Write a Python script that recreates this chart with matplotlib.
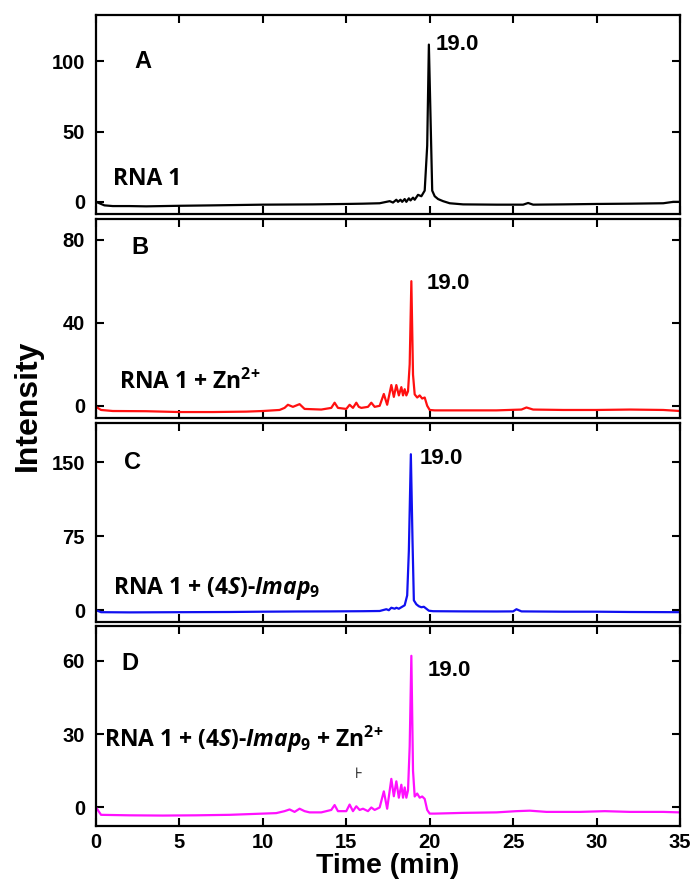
import matplotlib.pyplot as plt

# retention time traces
A_time = [0, 0.5, 1, 2, 3, 4, 5, 7, 10, 13, 15, 16, 17, 17.6, 17.8, 18.0, 18.1, 18.25, 18.35, 18.5,
          18.6, 18.75, 18.85, 19.0, 19.1, 19.3, 19.5, 19.7, 19.85, 19.95, 20.05, 20.15, 20.3, 20.5,
          20.8, 21.2, 22, 24, 25.6, 25.9, 26.2, 28, 30, 32, 34, 34.6, 35]
A_vals = [0, -2.5, -3, -3, -3.2, -3, -2.8, -2.5, -2, -1.8, -1.5, -1.3, -1, 0.5, -0.5, 1.5, 0, 1.5, 0, 2,
          0, 2.5, 1, 3, 1.5, 5, 4, 8, 40, 112, 60, 8, 4, 2,
          0.5, -1, -1.8, -2, -2, -0.8, -2, -1.8, -1.5, -1.3, -1, 0, 0]

B_time = [0, 0.3, 1, 3, 5, 7, 9, 10, 11, 11.3, 11.5, 11.8, 12.2, 12.5, 13.5, 14.1, 14.3, 14.5, 15.0,
          15.2, 15.4, 15.6, 15.75, 15.9, 16.3, 16.5, 16.7, 17.0, 17.25, 17.45, 17.7, 17.85, 18.0,
          18.15, 18.3, 18.4, 18.5, 18.6, 18.7, 18.8, 18.9, 19.0, 19.1, 19.25, 19.4, 19.55, 19.7,
          19.85, 20.0, 20.3, 22, 24, 25.5, 25.8, 26.2, 28, 30, 32, 34, 35]
B_vals = [-0.5, -2, -2.5, -2.6, -3, -3, -2.8, -2.5, -2, -1, 0.5, -0.5, 0.8, -1.5, -1.8, -1, 1.5, -1, -1.5,
          0.5, -1, 1.5, -0.5, -1, -0.5, 1.5, -0.5, 0, 5.7, 0.5, 10, 4.3, 10,
          5, 9, 5, 8, 5, 7, 20, 60, 15, 5.5, 4, 5, 3.5, 4,
          0, -2, -2.2, -2.2, -2.2, -1.8, -0.8, -1.8, -2, -2, -1.8, -2, -2.5]

C_time = [0, 0.3, 2, 5, 8, 10, 12, 14, 16, 17.0, 17.4, 17.55, 17.7, 17.9, 18.0, 18.15, 18.3, 18.5,
          18.65, 18.75, 18.87, 18.97, 19.05, 19.2, 19.35, 19.5, 19.65, 19.8, 19.95, 20.2, 22, 24,
          25.0, 25.2, 25.5, 28, 30, 32, 35]
C_vals = [0, -2, -2.2, -2, -1.8, -1.5, -1.3, -1.2, -1, -0.8, 1, 0, 2.5, 1.5, 2.5, 1.5, 3, 5,
          15, 60, 158, 70, 10, 6, 4, 3, 3.5, 1.5, -0.5, -1, -1.2, -1.3,
          -1.2, 1, -1.2, -1.5, -1.5, -1.8, -2]

D_time = [0, 0.3, 2, 4, 6, 8, 10, 10.8, 11.3, 11.6, 11.9, 12.2, 12.5, 12.8, 13.5, 14.1, 14.3, 14.5,
          15.0, 15.2, 15.4, 15.6, 15.8, 16.0, 16.3, 16.5, 16.7, 17.0, 17.25, 17.45, 17.7, 17.85,
          18.0, 18.15, 18.3, 18.4, 18.5, 18.6, 18.7, 18.8, 18.9, 19.0, 19.1, 19.25, 19.4, 19.55,
          19.7, 19.85, 20.0, 20.3, 22, 24, 25.2, 26, 27, 29, 30.5, 32, 34, 35]
D_vals = [0, -3, -3.2, -3.3, -3.2, -3, -2.5, -2.3, -1.5, -0.8, -1.8, -0.5, -1.5, -2, -2, -1, 1, -1.5,
          -1.5, 1.2, -1.5, 0.5, -1, -0.5, -1.5, 0, -1, 0, 6.6, -0.5, 11.7, 4.6,
          10.7, 4, 9.3, 4, 8.2, 4, 7, 25, 62, 15, 4.5, 5.7, 4, 4.5,
          3.5, -1, -2.5, -2.5, -2.2, -2, -1.5, -1.3, -1.8, -1.8, -1.5, -1.8, -1.8, -2]

panel_letters = ["A", "B", "C", "D"]
sample_names = [
    "RNA 1",
    r"RNA 1 + Zn$^{\mathbf{2}{+}}$",
    r"RNA 1 + (4$\mathit{S}$)-$\mathit{Imap}_{\mathit{9}}$",
    r"RNA 1 + (4$\mathit{S}$)-$\mathit{Imap}_{\mathit{9}}$ + Zn$^{\mathbf{2}{+}}$",
]
peak_label = "19.0"
y_ticks = [[0, 50, 100], [0, 40, 80], [0, 75, 150], [0, 30, 60]]
y_lims = [(-9, 133), (-6, 90), (-12, 190), (-7.5, 74)]
x_ticks = [0, 5, 10, 15, 20, 25, 30, 35]

traces = [(A_time, A_vals), (B_time, B_vals), (C_time, C_vals), (D_time, D_vals)]
colors = ["black", "#ff1010", "#1010f0", "#ff10ff"]

# text positions (data coords) per panel
letter_pos = [(2.3, 100), (2.1, 76), (1.7, 150), (1.5, 59)]
name_pos = [(1.0, 16), (1.4, 11.5), (1.0, 22), (0.5, 28)]
peak_pos = [(20.35, 112), (19.8, 59), (19.4, 154), (19.9, 56)]

plt.rcParams["mathtext.fontset"] = "custom"
plt.rcParams["mathtext.rm"] = "Open Sans:bold"
plt.rcParams["mathtext.bf"] = "Open Sans:bold"
plt.rcParams["mathtext.it"] = "Open Sans:italic:bold"

fig, axes = plt.subplots(4, 1, figsize=(6.91, 8.88), dpi=100, sharex=True)
fig.subplots_adjust(left=0.139, right=0.984, top=0.983, bottom=0.07, hspace=0.022)

for i, ax in enumerate(axes):
    t, v = traces[i]
    ax.plot(t, v, color=colors[i], lw=1.6)
    ax.set_xlim(0, 35)
    ax.set_ylim(*y_lims[i])
    ax.set_yticks(y_ticks[i])
    ax.set_xticks(x_ticks)
    ax.tick_params(direction="in", top=True, right=True, length=6, width=1.5)
    ax.tick_params(axis="y", pad=8)
    for lab in ax.get_yticklabels():
        lab.set_fontfamily("Liberation Sans")
        lab.set_fontweight("bold")
        lab.set_fontsize(14.5)
    for s in ax.spines.values():
        s.set_linewidth(1.6)

    ax.text(*letter_pos[i], panel_letters[i], fontsize=17, fontweight="bold",
            family="Liberation Sans", va="center", ha="left")
    ax.text(*name_pos[i], sample_names[i], fontsize=16.5, fontweight="bold",
            family="Open Sans", va="center", ha="left")
    ax.text(*peak_pos[i], peak_label, fontsize=16, fontweight="bold",
            family="Liberation Sans", va="center", ha="left")

# small stray mark in the last panel
axes[3].text(15.75, 14, "\u22a6", fontsize=11, family="DejaVu Sans", ha="center", va="center")

axes[3].tick_params(axis="x", labelsize=14.5, pad=5)
for lab in axes[3].get_xticklabels():
    lab.set_fontfamily("Liberation Sans")
    lab.set_fontweight("bold")
axes[3].set_xlabel("Time (min)", fontsize=20.5, fontweight="bold", family="Liberation Sans", labelpad=1)

fig.text(0.041, 0.544, "Intensity", rotation=90, fontsize=23, fontweight="bold",
         family="Liberation Sans", ha="center", va="center")

plt.savefig("out.png")
plt.close()
